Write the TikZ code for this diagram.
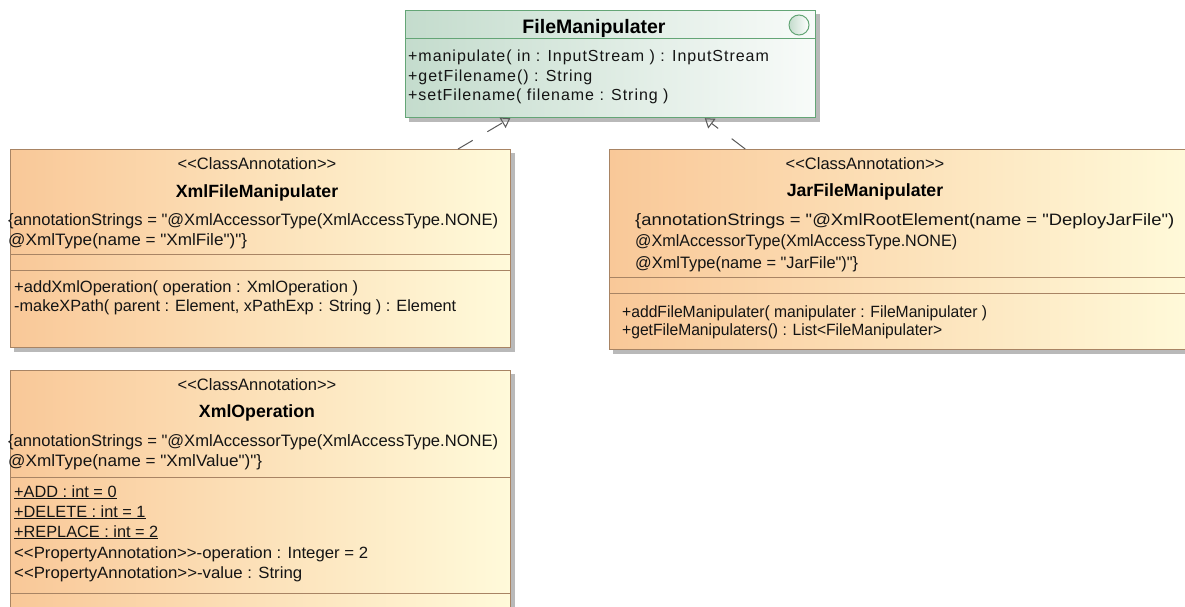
\documentclass[tikz,border=0pt]{standalone}
\usepackage{graphicx}
\usepackage{fontspec}
\setmainfont{Liberation Sans}[Ligatures=TeXOff]
\newfontfamily\bodyf{Liberation Sans}[Ligatures=TeXOff]
\newfontfamily\fmbodyf{Liberation Sans}[Ligatures=TeXOff,LetterSpace=6]
\newfontfamily\annf{Liberation Sans}[Ligatures=TeXOff]
\newcommand\hfitto[2]{\resizebox{#1pt}{\height}{#2}}
\usetikzlibrary{arrows.meta,calc,backgrounds}
\definecolor{orgL}{RGB}{249,200,152}
\definecolor{orgR}{RGB}{255,250,218}
\definecolor{orgB}{RGB}{168,132,100}
\definecolor{grnL}{RGB}{196,220,205}
\definecolor{grnR}{RGB}{248,251,249}
\definecolor{grnB}{RGB}{100,165,118}
\definecolor{shd}{RGB}{185,185,185}
\definecolor{conn}{RGB}{90,90,90}
\definecolor{txt}{RGB}{20,20,20}
\tikzset{
 box/.style={draw=orgB, line width=1.2pt, left color=orgL, right color=orgR, anchor=north west, inner sep=0pt, rectangle},
 gbox/.style={box, draw=grnB, left color=grnL, right color=grnR},
 sepline/.style={draw=orgB, line width=1pt},
 gsepline/.style={draw=grnB, line width=1pt},
 shadowbox/.style={fill=shd},
 body/.style={anchor=base west, inner sep=0pt, font=\bodyf\fontsize{16.3}{19}\selectfont, text=txt},
 fmbody/.style={anchor=base west, inner sep=0pt, font=\fmbodyf\fontsize{16}{19}\selectfont, text=txt},
 ann/.style={anchor=base west, inner sep=0pt, font=\annf\fontsize{16.5}{19}\selectfont, text=txt},
 stereo/.style={anchor=base, inner sep=0pt, font=\fontsize{16.5}{19}\selectfont, text=txt},
 ttl/.style={anchor=base, inner sep=0pt, font=\bfseries\fontsize{17.7}{20}\selectfont, text=black},
 real/.style={draw=conn, line width=1pt, dash pattern=on 17pt off 17pt, -{Triangle[open,length=9pt,width=12pt]}},
}
\begin{document}
\begin{tikzpicture}[x=1pt,y=-1pt]
\useasboundingbox (0,0) rectangle (1185,607);
% boxes
\node[gbox, minimum width=410pt, minimum height=107pt] (fm) at (405,10) {};
\node[box, minimum width=500pt, minimum height=198pt] (xfm) at (10,149) {};
\node[box, minimum width=586pt, minimum height=200pt] (jar) at (609,149) {};
\node[box, minimum width=500pt, minimum height=250pt] (xop) at (10,370) {};
\begin{scope}[on background layer]
\fill[white] (0,0) rectangle (1185,607);
\foreach \b in {fm,xfm,jar,xop}
  \fill[shadowbox] ([shift={(4,4)}]\b.north west) rectangle ([shift={(4,4)}]\b.south east);
\end{scope}
% FileManipulater
\draw[gsepline] (fm.west |- 0,39) -- (fm.east |- 0,39);
\node[draw=grnB, line width=1pt, circle, minimum size=20pt, inner sep=0pt, left color=grnL, right color=white] (ico) at (799,25) {};
\node[ttl, font=\bfseries\fontsize{19.5}{22}\selectfont] (fmt) at (594,34) {FileManipulater};
\node[fmbody] (fm1) at (408,62) {+manipulate( in : InputStream ) : InputStream};
\node[fmbody] (fm2) at (408,81.5) {+getFilename() : String};
\node[fmbody] (fm3) at (408,101) {+setFilename( filename : String )};
% XmlFileManipulater
\draw[sepline] (xfm.west |- 0,254) -- (xfm.east |- 0,254);
\draw[sepline] (xfm.west |- 0,270) -- (xfm.east |- 0,270);
\node[stereo] (xs) at (257,169) {<<ClassAnnotation>>};
\node[ttl] (xt) at (257,197) {XmlFileManipulater};
\node[ann] (xa1) at (8,225) {\hfitto{490}{\{annotationStrings = "@XmlAccessorType(XmlAccessType.NONE)}};
\node[ann] (xa2) at (8,245) {\hfitto{239}{@XmlType(name = "XmlFile")"\}}};
\node[body] (xm1) at (14,292) {\hfitto{344}{+addXmlOperation( operation : XmlOperation )}};
\node[body] (xm2) at (14,311) {-makeXPath( parent : Element, xPathExp : String ) : Element};
% JarFileManipulater
\draw[sepline] (jar.west |- 0,277) -- (jar.east |- 0,277);
\draw[sepline] (jar.west |- 0,293) -- (jar.east |- 0,293);
\node[stereo] (js) at (865,169) {<<ClassAnnotation>>};
\node[ttl] (jt) at (865,196) {JarFileManipulater};
\node[ann] (ja1) at (635,225) {\hfitto{539}{\{annotationStrings = "@XmlRootElement(name = "DeployJarFile")}};
\node[ann] (ja2) at (635,246) {\hfitto{322}{@XmlAccessorType(XmlAccessType.NONE)}};
\node[ann] (ja3) at (635,268) {\hfitto{223}{@XmlType(name = "JarFile")"\}}};
\node[body] (jm1) at (622,317) {\hfitto{365}{+addFileManipulater( manipulater : FileManipulater )}};
\node[body] (jm2) at (622,335) {\hfitto{320}{+getFileManipulaters() : List<FileManipulater>}};
% XmlOperation
\draw[sepline] (xop.west |- 0,477) -- (xop.east |- 0,477);
\draw[sepline] (xop.west |- 0,593) -- (xop.east |- 0,593);
\node[stereo] (os) at (257,390) {<<ClassAnnotation>>};
\node[ttl] (ot) at (257,417) {XmlOperation};
\node[ann] (oa1) at (8,446) {\hfitto{490}{\{annotationStrings = "@XmlAccessorType(XmlAccessType.NONE)}};
\node[ann] (oa2) at (8,466) {\hfitto{254}{@XmlType(name = "XmlValue")"\}}};
\node[body] (o1) at (14,497) {\underline{+ADD : int = 0}};
\node[body] (o2) at (14,517) {\underline{+DELETE : int = 1}};
\node[body] (o3) at (14,537) {\underline{+REPLACE : int = 2}};
\node[body] (o4) at (14,558) {\hfitto{354}{<<PropertyAnnotation>>-operation : Integer = 2}};
\node[body] (o5) at (14,578) {\hfitto{288}{<<PropertyAnnotation>>-value : String}};
% realizations
\draw[real] ($(xfm.north west)!0.894!(xfm.north east)$) -- ($(fm.south west)!0.256!(fm.south east)$);
\draw[real] ($(jar.north west)!0.232!(jar.north east)$) -- ($(fm.south west)!0.729!(fm.south east)$);
\end{tikzpicture}
\end{document}
